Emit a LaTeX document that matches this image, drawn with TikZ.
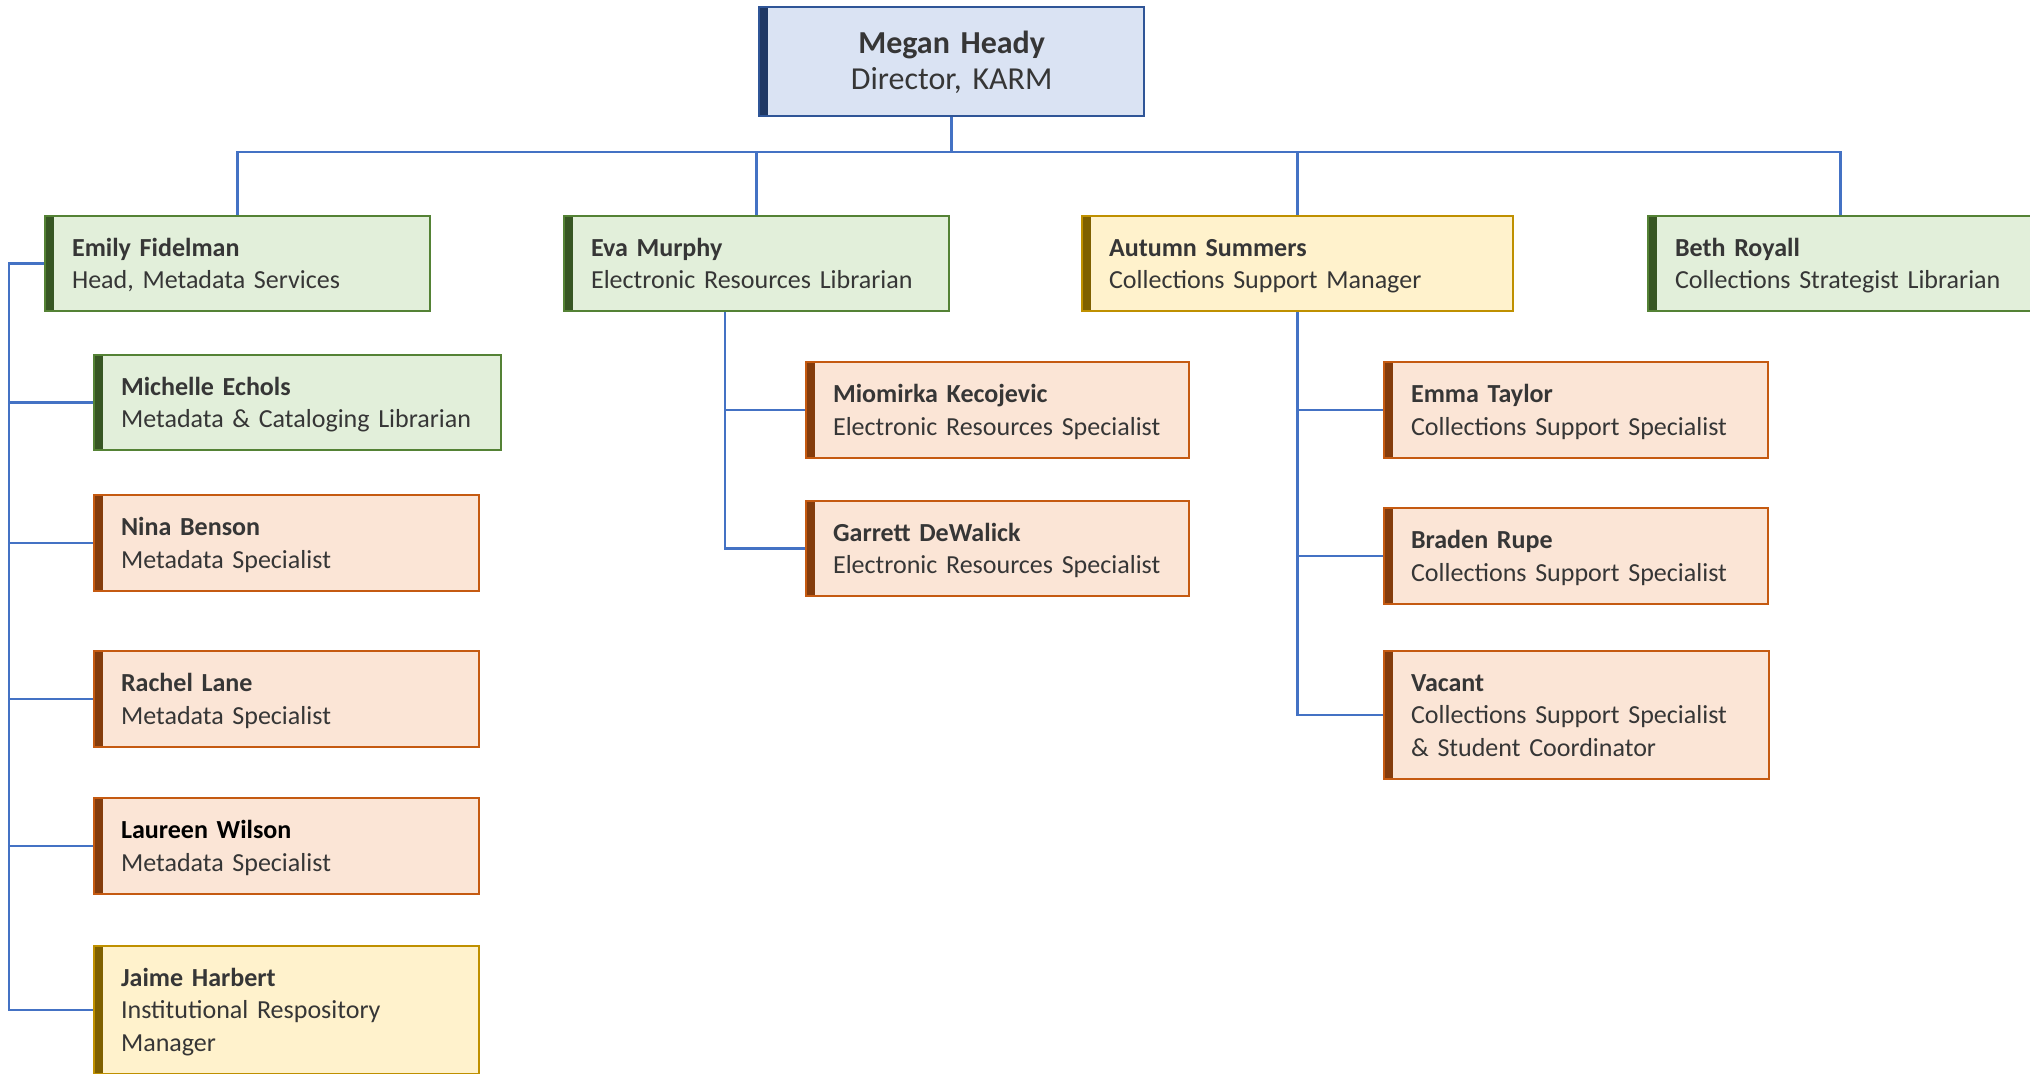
\documentclass[tikz,border=0pt]{standalone}
\usepackage{fontspec}
\setmainfont{Carlito}
\definecolor{txt}{HTML}{363636}
\definecolor{conn}{HTML}{4472C4}
\definecolor{cBfill}{HTML}{DAE3F3}
\definecolor{cBborder}{HTML}{2F5597}
\definecolor{cBbar}{HTML}{1F3864}
\definecolor{cGfill}{HTML}{E2EFDA}
\definecolor{cGborder}{HTML}{548235}
\definecolor{cGbar}{HTML}{375623}
\definecolor{cYfill}{HTML}{FFF2CC}
\definecolor{cYborder}{HTML}{BF9000}
\definecolor{cYbar}{HTML}{7F6000}
\definecolor{cOfill}{HTML}{FBE5D6}
\definecolor{cOborder}{HTML}{C55A11}
\definecolor{cObar}{HTML}{843C0C}
\tikzset{
  orgbox/.style n args={3}{draw=#2, fill=#1, line width=0.6pt, anchor=north west,
    align=left, inner xsep=0.27cm, inner ysep=0pt, text=txt,
    font=\fontsize{7.4}{9.3}\selectfont,
    execute at begin node={\rule{0pt}{7.8pt}}, execute at end node=\strut,
    path picture={\fill[#3] (path picture bounding box.north west) rectangle
      ([xshift=0.09cm]path picture bounding box.south west);}},
  gbox/.style={orgbox={cGfill}{cGborder}{cGbar}},
  ybox/.style={orgbox={cYfill}{cYborder}{cYbar}},
  obox/.style={orgbox={cOfill}{cOborder}{cObar}},
  wide/.style 2 args={text width=#1, minimum height=#2},
  link/.style={draw=conn, line width=0.8pt},
}
\begin{document}
\begin{tikzpicture}[x=0.01cm,y=-0.01cm]
\useasboundingbox (0,0) rectangle (2030,1074);
% top
\node[orgbox={cBfill}{cBborder}{cBbar}, align=center, text width=3.31cm,
  minimum height=1.09cm, font=\fontsize{9.1}{10.3}\selectfont,
  execute at begin node={\rule{0pt}{8.6pt}}] (megan) at (758,6)
  {\textbf{Megan Heady}\\Director, KARM};
\coordinate (bus) at (0,152);
% level 1
\node[gbox, wide={3.31cm}{0.95cm}] (emily) at (44,215) {\textbf{Emily Fidelman}\\Head, Metadata Services};
\node[gbox, wide={3.31cm}{0.95cm}] (eva) at (563,215) {\textbf{Eva Murphy}\\Electronic Resources Librarian};
\node[ybox, wide={3.77cm}{0.95cm}] (autumn) at (1081,215) {\textbf{Autumn Summers}\\Collections Support Manager};
\node[gbox, wide={3.31cm}{0.95cm}] (beth) at (1647,215) {\textbf{Beth Royall}\\Collections Strategist Librarian};
% Emily's team
\node[gbox, wide={3.53cm}{0.95cm}] (michelle) at (93,354) {\textbf{Michelle Echols}\\Metadata \& Cataloging Librarian};
\node[obox, wide={3.31cm}{0.96cm}] (nina) at (93,494) {\textbf{Nina Benson}\\Metadata Specialist};
\node[obox, wide={3.31cm}{0.96cm}] (rachel) at (93,650) {\textbf{Rachel Lane}\\Metadata Specialist};
\node[obox, wide={3.31cm}{0.96cm}] (laureen) at (93,797) {\textcolor{black}{\textbf{Laureen Wilson}}\\Metadata Specialist};
\node[ybox, wide={3.31cm}{1.28cm}] (jaime) at (93,945) {\textbf{Jaime Harbert}\\Institutional Respository\\Manager};
% Eva's team
\node[obox, wide={3.29cm}{0.96cm}] (mio) at (805,361) {\textbf{Miomirka Kecojevic}\\Electronic Resources Specialist};
\node[obox, wide={3.29cm}{0.95cm}] (garrett) at (805,500) {\textbf{Garrett DeWalick}\\Electronic Resources Specialist};
% Autumn's team
\node[obox, wide={3.30cm}{0.96cm}] (emma) at (1383,361) {\textbf{Emma Taylor}\\Collections Support Specialist};
\node[obox, wide={3.30cm}{0.96cm}] (braden) at (1383,507) {\textbf{Braden Rupe}\\Collections Support Specialist};
\node[obox, wide={3.31cm}{1.28cm}] (vacant) at (1383,650) {\textbf{Vacant}\\Collections Support Specialist\\\& Student Coordinator};
% connectors level 1
\foreach \c in {emily,eva,autumn,beth}
  \draw[link] (megan.south) |- (bus -| \c.north) -- (\c.north);
% Emily
\coordinate (espine) at (9,0);
\draw[link] (emily.west) -| (espine |- jaime.west) -- (jaime.west);
\foreach \c in {michelle,nina,rachel,laureen}
  \draw[link] (espine |- \c.west) -- (\c.west);
% Eva
\coordinate (vspine) at (725,0);
\draw[link] (vspine |- eva.south) |- (garrett.west);
\draw[link] (vspine |- mio.west) -- (mio.west);
% Autumn
\draw[link] (autumn.south) |- (vacant.west);
\foreach \c in {emma,braden}
  \draw[link] (autumn.south |- \c.west) -- (\c.west);
\end{tikzpicture}
\end{document}
